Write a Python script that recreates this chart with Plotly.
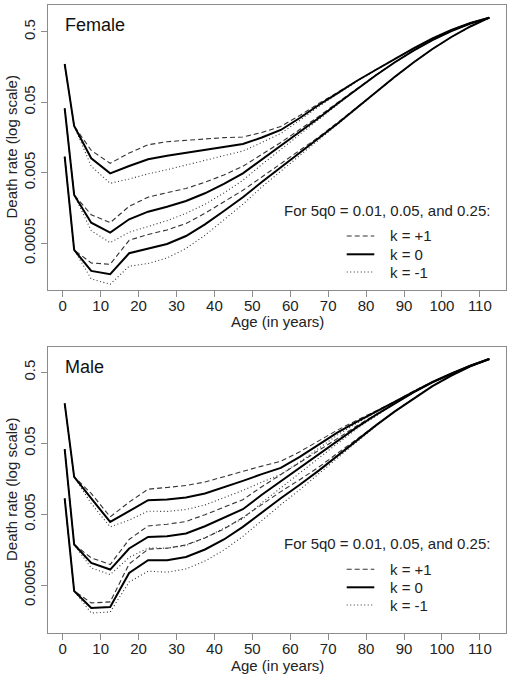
import numpy as np
import plotly.graph_objects as go

# ---------------- data (log10 of death rate) ----------------
ages = [0.5, 3, 7.5, 12.5, 17.5, 22.5, 27.5, 32.5, 37.5, 42.5, 47.5, 52.5,
        57.5, 62.5, 67.5, 72.5, 77.5, 82.5, 87.5, 92.5, 97.5, 102.5, 107.5, 112.5]

# Female, 5q0 = 0.25
female_q25_k0 = [-0.759, -1.639, -2.097, -2.310, -2.206, -2.111, -2.060, -2.017, -1.975, -1.932, -1.894, -1.802,
                 -1.695, -1.525, -1.341, -1.171, -1.000, -0.844, -0.688, -0.539, -0.397, -0.277, -0.178, -0.102]
female_q25_kp = [-0.759, -1.639, -1.984, -2.168, -2.022, -1.905, -1.861, -1.840, -1.819, -1.804, -1.795, -1.731,
                 -1.645, -1.490, -1.320, -1.157, -0.993, -0.841, -0.688, -0.539, -0.397, -0.277, -0.178, -0.102]
female_q25_km = [-0.759, -1.639, -2.210, -2.452, -2.390, -2.317, -2.259, -2.194, -2.131, -2.060, -1.993, -1.873,
                 -1.745, -1.560, -1.362, -1.185, -1.007, -0.847, -0.688, -0.539, -0.397, -0.277, -0.178, -0.102]
# Female, 5q0 = 0.05
female_q05_k0 = [-1.388, -2.617, -3.010, -3.152, -2.962, -2.854, -2.783, -2.702, -2.593, -2.461, -2.310, -2.114,
                 -1.922, -1.724, -1.525, -1.319, -1.114, -0.922, -0.738, -0.568, -0.419, -0.291, -0.185, -0.102]
female_q05_kp = [-1.388, -2.617, -2.897, -3.010, -2.778, -2.648, -2.584, -2.525, -2.437, -2.333, -2.211, -2.043,
                 -1.872, -1.689, -1.504, -1.305, -1.107, -0.919, -0.738, -0.568, -0.419, -0.291, -0.185, -0.102]
female_q05_km = [-1.388, -2.617, -3.123, -3.294, -3.146, -3.060, -2.982, -2.879, -2.749, -2.589, -2.409, -2.185,
                 -1.972, -1.759, -1.546, -1.333, -1.121, -0.925, -0.738, -0.568, -0.419, -0.291, -0.185, -0.102]
# Female, 5q0 = 0.01
female_q01_k0 = [-2.074, -3.397, -3.695, -3.742, -3.444, -3.383, -3.312, -3.199, -3.033, -2.844, -2.650, -2.433,
                 -2.227, -2.022, -1.816, -1.603, -1.383, -1.163, -0.944, -0.738, -0.546, -0.376, -0.227, -0.102]
female_q01_kp = [-2.074, -3.397, -3.582, -3.600, -3.260, -3.177, -3.113, -3.022, -2.877, -2.716, -2.551, -2.362,
                 -2.177, -1.987, -1.795, -1.589, -1.376, -1.160, -0.944, -0.738, -0.546, -0.376, -0.227, -0.102]
female_q01_km = [-2.074, -3.397, -3.808, -3.884, -3.628, -3.589, -3.511, -3.376, -3.189, -2.972, -2.749, -2.504,
                 -2.277, -2.057, -1.837, -1.617, -1.390, -1.166, -0.944, -0.738, -0.546, -0.376, -0.227, -0.102]

# Male, 5q0 = 0.25
male_q25_k0 = [-0.738, -1.773, -2.078, -2.408, -2.257, -2.102, -2.092, -2.064, -2.008, -1.923, -1.830, -1.735,
               -1.647, -1.491, -1.317, -1.147, -0.998, -0.857, -0.716, -0.565, -0.434, -0.315, -0.208, -0.113]
male_q25_kp = [-0.738, -1.773, -2.007, -2.337, -2.130, -1.947, -1.923, -1.895, -1.846, -1.775, -1.696, -1.622,
               -1.555, -1.420, -1.268, -1.112, -0.977, -0.847, -0.716, -0.565, -0.434, -0.315, -0.208, -0.113]
male_q25_km = [-0.738, -1.773, -2.149, -2.479, -2.384, -2.257, -2.261, -2.233, -2.170, -2.071, -1.964, -1.848,
               -1.739, -1.562, -1.366, -1.182, -1.019, -0.867, -0.716, -0.565, -0.434, -0.315, -0.208, -0.113]
# Male, 5q0 = 0.05
male_q05_k0 = [-1.383, -2.727, -2.986, -3.080, -2.783, -2.620, -2.610, -2.572, -2.469, -2.346, -2.229, -2.025,
               -1.834, -1.651, -1.460, -1.266, -1.077, -0.903, -0.738, -0.583, -0.442, -0.321, -0.208, -0.113]
male_q05_kp = [-1.383, -2.727, -2.915, -3.009, -2.656, -2.465, -2.441, -2.403, -2.307, -2.198, -2.095, -1.912,
               -1.742, -1.580, -1.411, -1.231, -1.056, -0.893, -0.738, -0.583, -0.442, -0.321, -0.208, -0.113]
male_q05_km = [-1.383, -2.727, -3.057, -3.151, -2.910, -2.775, -2.779, -2.741, -2.631, -2.494, -2.363, -2.138,
               -1.926, -1.722, -1.509, -1.301, -1.098, -0.913, -0.738, -0.583, -0.442, -0.321, -0.208, -0.113]
# Male, 5q0 = 0.01
male_q01_k0 = [-2.078, -3.381, -3.621, -3.607, -3.128, -2.948, -2.948, -2.902, -2.797, -2.656, -2.479, -2.271,
               -2.074, -1.884, -1.686, -1.474, -1.263, -1.051, -0.854, -0.668, -0.494, -0.346, -0.216, -0.113]
male_q01_kp = [-2.078, -3.381, -3.550, -3.536, -3.001, -2.793, -2.779, -2.733, -2.635, -2.508, -2.345, -2.158,
               -1.982, -1.813, -1.637, -1.439, -1.242, -1.041, -0.854, -0.668, -0.494, -0.346, -0.216, -0.113]
male_q01_km = [-2.078, -3.381, -3.692, -3.678, -3.255, -3.103, -3.117, -3.071, -2.959, -2.804, -2.613, -2.384,
               -2.166, -1.955, -1.735, -1.509, -1.284, -1.061, -0.854, -0.668, -0.494, -0.346, -0.216, -0.113]

x_ticks = [0, 10, 20, 30, 40, 50, 60, 70, 80, 90, 100, 110]
y_ticks = [0.5, 0.05, 0.005, 0.0005]
y_tick_text = ["0.5", "0.05", "0.005", "0.0005"]

panel_names = ["Female", "Male"]
legend_title = "For 5q0 = 0.01, 0.05, and 0.25:"
legend_labels = ["k = +1", "k = 0", "k = -1"]

# ---------------- styling ----------------
FONT = "Liberation Sans, Arial, Helvetica, sans-serif"
TXT = "#222222"
BOX = "#8c8c8c"
styles = {
    "kp": dict(color="#333333", width=1.1, dash="5px,3px"),
    "k0": dict(color="#000000", width=2.0, dash="solid"),
    "km": dict(color="#333333", width=1.1, dash="1px,2.5px"),
}

fig = go.Figure()

panels = [
    ("x", "y", [female_q25_km, female_q25_kp, female_q25_k0,
                female_q05_km, female_q05_kp, female_q05_k0,
                female_q01_km, female_q01_kp, female_q01_k0]),
    ("x2", "y2", [male_q25_km, male_q25_kp, male_q25_k0,
                  male_q05_km, male_q05_kp, male_q05_k0,
                  male_q01_km, male_q01_kp, male_q01_k0]),
]
keys = ["km", "kp", "k0"] * 3
for xa, ya, series in panels:
    for key, s in zip(keys, series):
        fig.add_trace(go.Scatter(x=ages, y=10 ** np.array(s), mode="lines",
                                 line=styles[key], xaxis=xa, yaxis=ya,
                                 showlegend=False, hoverinfo="skip"))

axis_common = dict(showgrid=False, zeroline=False, showline=True, linecolor=BOX,
                   linewidth=1, mirror=True, ticks="outside", ticklen=6,
                   tickcolor=BOX, tickwidth=1,
                   tickfont=dict(family=FONT, size=15, color=TXT))

H_TOP = [0.5462, 1.0]
H_BOT = [0.0, 0.4549]
fig.update_layout(
    width=512, height=680,
    margin=dict(l=48, r=6, t=5, b=47),
    paper_bgcolor="white", plot_bgcolor="white",
    font=dict(family=FONT, color=TXT),
    xaxis=dict(domain=[0, 1], anchor="y", range=[-3.9, 116.9],
               tickvals=x_ticks, ticklabelstandoff=-4, **axis_common),
    yaxis=dict(domain=H_TOP, anchor="x", type="log", range=[-3.965, 0.078],
               tickvals=y_ticks, ticktext=y_tick_text, tickangle=-90, **axis_common),
    xaxis2=dict(domain=[0, 1], anchor="y2", range=[-3.9, 116.9],
                tickvals=x_ticks, ticklabelstandoff=-4, **axis_common),
    yaxis2=dict(domain=H_BOT, anchor="x2", type="log", range=[-3.974, 0.052],
                tickvals=y_ticks, ticktext=y_tick_text, tickangle=-90, **axis_common),
)

def px_y(y):
    return (633 - y) / 628.0

def px_x(x):
    return (x - 48) / 458.0

ann = []
# panel names
for name, yc in zip(panel_names, [25, 366.5]):
    ann.append(dict(text=name, x=px_x(63), y=px_y(yc), xref="paper", yref="paper",
                    xanchor="left", yanchor="middle", showarrow=False,
                    font=dict(family=FONT, size=18, color="#111111")))
# axis titles
for yc in [147.5, 490]:
    ann.append(dict(text="Death rate (log scale)", x=px_x(11), y=px_y(yc), xref="paper",
                    yref="paper", textangle=-90, xanchor="center", yanchor="middle",
                    showarrow=False, font=dict(family=FONT, size=15, color=TXT)))
for yc in [322, 665]:
    ann.append(dict(text="Age (in years)", x=0.5, y=px_y(yc), xref="paper", yref="paper",
                    xanchor="center", yanchor="middle", showarrow=False,
                    font=dict(family=FONT, size=15, color=TXT)))

# legends
shapes = []
legend_layout = [(210.5, [236, 254.3, 272]), (543.5, [569.3, 587.3, 605])]
legend_keys = ["kp", "k0", "km"]
for head_y, rows in legend_layout:
    ann.append(dict(text=legend_title, x=px_x(281.7), y=px_y(head_y), xref="paper",
                    yref="paper", xanchor="left", yanchor="middle", showarrow=False,
                    font=dict(family=FONT, size=15, color=TXT)))
    for lab, ry, key in zip(legend_labels, rows, legend_keys):
        ann.append(dict(text=lab, x=px_x(387.7), y=px_y(ry), xref="paper", yref="paper",
                        xanchor="left", yanchor="middle", showarrow=False,
                        font=dict(family=FONT, size=15, color=TXT)))
        shapes.append(dict(type="line", xref="paper", yref="paper",
                           x0=px_x(346.7), x1=px_x(374.3), y0=px_y(ry), y1=px_y(ry),
                           line=styles[key]))

fig.update_layout(annotations=ann, shapes=shapes)
fig.write_html("out.html",
               config={"displayModeBar": False, "staticPlot": True},
               post_script="document.body.style.margin='0px';"
                           "document.body.style.overflow='hidden';")
